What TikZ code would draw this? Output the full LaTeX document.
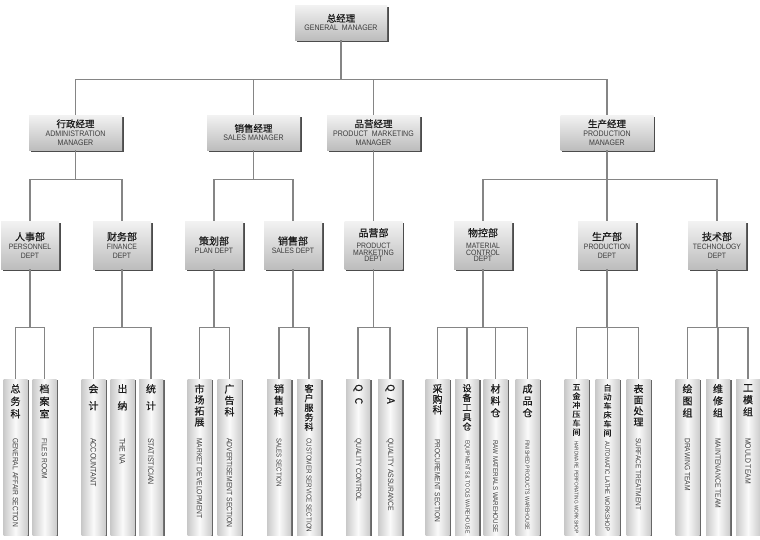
\documentclass[tikz,border=0pt]{standalone}
\usepackage{fontspec}
\setmainfont{Liberation Sans}[FakeStretch=0.88]
\newfontfamily\zh{Noto Sans CJK SC}[FakeBold=0.7]
\usepackage{tikz}
\usetikzlibrary{shadows}
\definecolor{wire}{HTML}{858585}
\definecolor{zhink}{HTML}{1C1C1C}
\definecolor{enink}{HTML}{3C3C3C}
\tikzset{mgr box/.style={
    minimum width=#1,minimum height=35pt,inner sep=0pt,align=center,
    top color=gray!10,bottom color=gray!52,
    drop shadow={shadow xshift=1.5pt,shadow yshift=-1.5pt,fill=black,opacity=.7},
    text=enink,font=\fontsize{8}{9}\selectfont}}
\tikzset{dept box/.style={
    minimum width=58pt,minimum height=48pt,inner sep=0pt,align=center,
    top color=gray!10,bottom color=gray!52,
    drop shadow={shadow xshift=1.5pt,shadow yshift=-1.5pt,fill=black,opacity=.7},
    text=enink,font=\fontsize{7.8}{8.8}\selectfont}}
\tikzset{team bar/.style={
    anchor=north,minimum width=24pt,minimum height=156pt,inner sep=0pt,
    left color=gray!42,right color=gray!40,middle color=gray!4,
    drop shadow={shadow xshift=1.5pt,shadow yshift=-1pt,fill=black,opacity=.6}}}
\tikzset{team zh/.style={anchor=north,inner sep=0pt,align=center,text=zhink}}
\tikzset{team en/.style={rotate=-90,anchor=west,inner sep=0pt,text=enink}}
\tikzset{tree line/.style={draw=wire,line width=1.2pt}}
\newcommand\zhmgr[1]{{\zh\color{zhink}\fontsize{9.5}{11}\selectfont#1}}
\newcommand\zhdept[1]{{\zh\color{zhink}\fontsize{10}{11}\selectfont#1}}

\begin{document}
\begin{tikzpicture}[x=1pt,y=-1pt]
  \path[fill=white,use as bounding box] (0,0) rectangle (760,539);
  % managers
  \node[mgr box=92pt] at (341,22.5) (gm) {\zhmgr{总经理}\\GENERAL\ \ MANAGER};
  \node[mgr box=93pt] at (75.5,132.5) (admin) {\zhmgr{行政经理}\\ADMINISTRATION\\MANAGER};
  \node[mgr box=93pt] at (253.5,132.5) (sales) {\zhmgr{销售经理}\\SALES MANAGER};
  \node[mgr box=93pt] at (373.5,132.5) (pmkt) {\zhmgr{品营经理}\\PRODUCT\ \ MARKETING\\MANAGER};
  \node[mgr box=93pt] at (607,132.5) (prod) {\zhmgr{生产经理}\\PRODUCTION\\MANAGER};
  % departments
  \node[dept box] at (30,245) (personnel) {\zhdept{人事部}\\PERSONNEL\\DEPT};
  \node[dept box] at (122,245) (finance) {\zhdept{财务部}\\FINANCE\\DEPT};
  \node[dept box] at (214,245) (plan) {\zhdept{策划部}\\PLAN DEPT};
  \node[dept box] at (293,245) (salesdept) {\zhdept{销售部}\\SALES DEPT};
  \node[dept box] at (373.5,245) (pmktdept) {\zhdept{品营部}\\[3pt]PRODUCT\\[-2pt]MARKETING\\[-2pt]DEPT};
  \node[dept box] at (483,245) (matctl) {\zhdept{物控部}\\[3pt]MATERIAL\\[-2pt]CONTROL\\[-2pt]DEPT};
  \node[dept box] at (607,245) (proddept) {\zhdept{生产部}\\PRODUCTION\\DEPT};
  \node[dept box] at (717,245) (techdept) {\zhdept{技术部}\\TECHNOLOGY\\DEPT};
  % teams
  \foreach \n/\x/\fs/\lh/\zhtxt/\ey/\es/\entxt in {
      gaffair/15.5/10/12.5/{总\\务\\科}/438/7.6/{GENERAL AFFAIR SECTION},
      files/44.5/10/12.5/{档\\案\\室}/438/7.5/{FILES ROOM},
      account/93.5/10/17/{会\\计}/438/8/{ACCOUNTANT},
      cashier/122.5/10/17/{出\\纳}/438/8/{THE NA},
      stats/151/10/17/{统\\计}/438/8/{STATISTICIAN},
      mktdev/199.5/10/11/{市\\场\\拓\\展}/438/7.6/{MARKET DEVELOPMENT},
      advert/229.5/10/11.5/{广\\告\\科}/438/7.7/{ADVERTISEMENT SECTION},
      salessec/279/10/11.5/{销\\售\\科}/438/7/{SALES SECTION},
      custsvc/309/9/9.6/{客\\户\\服\\务\\科}/438/7.1/{CUSTOMER SERVICE SECTION},
      qc/358/10/12/{\rotatebox{-90}{Q\hspace{6pt}C}}/438/7.6/{QUALITY CONTROL},
      qa/390/10/12/{\rotatebox{-90}{Q\hspace{6pt}A}}/438/7.7/{QUALITY ASSURANCE},
      procure/437.5/10/10.5/{采\\购\\科}/439/7.5/{PROCUREMENT SECTION},
      equip/467/9/9.6/{设\\备\\工\\具\\仓}/440/5.9/{EQUIPMENTS \& TOOLS WAREHOUSE},
      rawmat/495.5/10/12/{材\\料\\仓}/440/7/{RAW MATERIALS WAREHOUSE},
      finished/527.5/10/12/{成\\品\\仓}/440/5.9/{FINISHED PRODUCTS WAREHOUSE},
      hardware/576.5/8/9/{五\\金\\冲\\压\\车\\间}/441/5.4/{HARDWARE PERFORATING WORKSHOP},
      lathe/607.5/8/9/{自\\动\\车\\床\\车\\间}/441/6.6/{AUTOMATIC LATHE WORKSHOP},
      surface/638.5/10/11/{表\\面\\处\\理}/438/7.4/{SURFACE TREATMENT},
      drawing/687.5/10/12/{绘\\图\\组}/438/7.6/{DRAWING TEAM},
      maint/718/10/12/{维\\修\\组}/438/7.7/{MAINTENANCE TEAM},
      mould/748/10/12/{工\\模\\组}/438/7.8/{MOULD TEAM}}
  {
    \node[team bar] at (\x,379) (\n) {};
    \node[team zh,font=\zh\fontsize{\fs}{\lh}\selectfont] at (\x,384) (\n-zh) {\zhtxt};
    \node[team en,font=\fontsize{\es}{\es}\selectfont] at (\x,\ey) (\n-en) {\entxt};
  }
  % connectors
  \foreach \c in {admin,sales,pmkt,prod}
    \draw[tree line] (gm.south) -- ++(0,39) -| (\c.north);
  \foreach \p/\c in {admin/personnel,admin/finance,sales/plan,sales/salesdept,
      pmkt/pmktdept,prod/matctl,prod/proddept,prod/techdept}
    \draw[tree line] (\p.south) -- ++(0,29.5) -| (\c.north);
  \foreach \p/\c in {personnel/gaffair,personnel/files,finance/account,finance/stats,
      plan/mktdev,plan/advert,salesdept/salessec,salesdept/custsvc,pmktdept/qc,pmktdept/qa,
      matctl/procure,matctl/equip,matctl/rawmat,matctl/finished,
      proddept/hardware,proddept/lathe,proddept/surface,
      techdept/drawing,techdept/maint,techdept/mould}
    \draw[tree line] (\p.south) -- ++(0,58) -| (\c.north);
\end{tikzpicture}
\end{document}
